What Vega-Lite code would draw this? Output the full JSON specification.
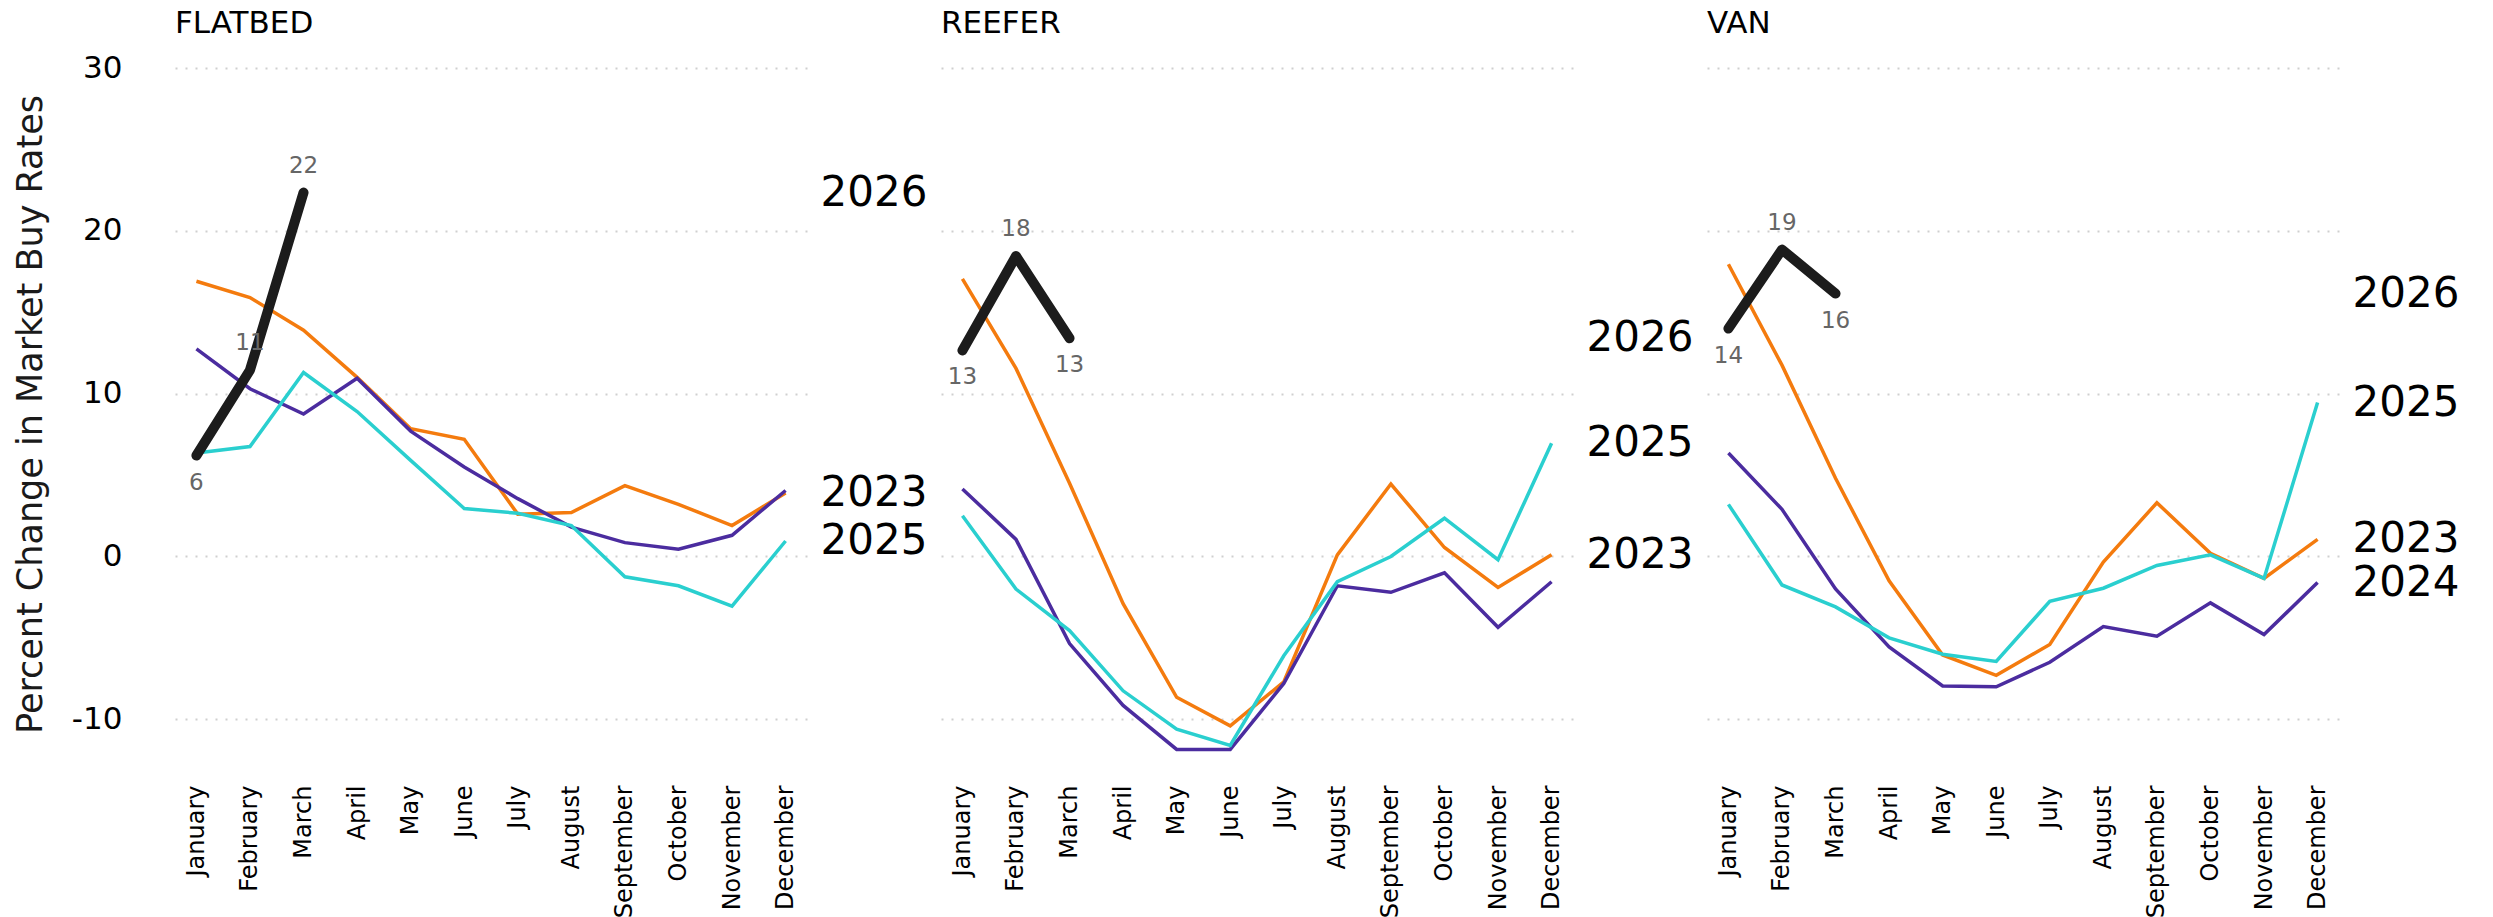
{
  "$schema": "https://vega.github.io/schema/vega-lite/v6.json",
  "background": "white",
  "padding": {"left": 13, "top": 8, "right": 5, "bottom": 0},
  "bounds": "flush",
  "spacing": 134,
  "config": {
    "view": {"stroke": null},
    "font": "DejaVu Sans",
    "header": {"title": null, "labelFontSize": 31, "labelAnchor": "start", "labelAlign": "left", "labelColor": "black", "labelFont": "DejaVu Sans", "labelBaseline": "alphabetic", "labelPadding": 4}
  },
  "data": {"values": [
    {"panel":"FLATBED","year":"2023","m":1,"month":"January","value":16.9},
    {"panel":"FLATBED","year":"2023","m":2,"month":"February","value":15.9},
    {"panel":"FLATBED","year":"2023","m":3,"month":"March","value":13.9},
    {"panel":"FLATBED","year":"2023","m":4,"month":"April","value":11.0},
    {"panel":"FLATBED","year":"2023","m":5,"month":"May","value":7.85},
    {"panel":"FLATBED","year":"2023","m":6,"month":"June","value":7.2},
    {"panel":"FLATBED","year":"2023","m":7,"month":"July","value":2.6},
    {"panel":"FLATBED","year":"2023","m":8,"month":"August","value":2.7},
    {"panel":"FLATBED","year":"2023","m":9,"month":"September","value":4.35},
    {"panel":"FLATBED","year":"2023","m":10,"month":"October","value":3.2},
    {"panel":"FLATBED","year":"2023","m":11,"month":"November","value":1.9},
    {"panel":"FLATBED","year":"2023","m":12,"month":"December","value":3.9},
    {"panel":"FLATBED","year":"2024","m":1,"month":"January","value":12.75},
    {"panel":"FLATBED","year":"2024","m":2,"month":"February","value":10.3},
    {"panel":"FLATBED","year":"2024","m":3,"month":"March","value":8.75},
    {"panel":"FLATBED","year":"2024","m":4,"month":"April","value":10.95},
    {"panel":"FLATBED","year":"2024","m":5,"month":"May","value":7.7},
    {"panel":"FLATBED","year":"2024","m":6,"month":"June","value":5.5},
    {"panel":"FLATBED","year":"2024","m":7,"month":"July","value":3.55},
    {"panel":"FLATBED","year":"2024","m":8,"month":"August","value":1.8},
    {"panel":"FLATBED","year":"2024","m":9,"month":"September","value":0.85},
    {"panel":"FLATBED","year":"2024","m":10,"month":"October","value":0.45},
    {"panel":"FLATBED","year":"2024","m":11,"month":"November","value":1.3},
    {"panel":"FLATBED","year":"2024","m":12,"month":"December","value":4.05},
    {"panel":"FLATBED","year":"2025","m":1,"month":"January","value":6.35},
    {"panel":"FLATBED","year":"2025","m":2,"month":"February","value":6.75},
    {"panel":"FLATBED","year":"2025","m":3,"month":"March","value":11.3},
    {"panel":"FLATBED","year":"2025","m":4,"month":"April","value":8.9},
    {"panel":"FLATBED","year":"2025","m":5,"month":"May","value":5.9},
    {"panel":"FLATBED","year":"2025","m":6,"month":"June","value":2.95},
    {"panel":"FLATBED","year":"2025","m":7,"month":"July","value":2.65},
    {"panel":"FLATBED","year":"2025","m":8,"month":"August","value":1.9},
    {"panel":"FLATBED","year":"2025","m":9,"month":"September","value":-1.25},
    {"panel":"FLATBED","year":"2025","m":10,"month":"October","value":-1.8},
    {"panel":"FLATBED","year":"2025","m":11,"month":"November","value":-3.05},
    {"panel":"FLATBED","year":"2025","m":12,"month":"December","value":0.95},
    {"panel":"FLATBED","year":"2026","m":1,"month":"January","value":6.2},
    {"panel":"FLATBED","year":"2026","m":2,"month":"February","value":11.45},
    {"panel":"FLATBED","year":"2026","m":3,"month":"March","value":22.35},
    {"panel":"REEFER","year":"2023","m":1,"month":"January","value":17.05},
    {"panel":"REEFER","year":"2023","m":2,"month":"February","value":11.55},
    {"panel":"REEFER","year":"2023","m":3,"month":"March","value":4.5},
    {"panel":"REEFER","year":"2023","m":4,"month":"April","value":-2.9},
    {"panel":"REEFER","year":"2023","m":5,"month":"May","value":-8.65},
    {"panel":"REEFER","year":"2023","m":6,"month":"June","value":-10.4},
    {"panel":"REEFER","year":"2023","m":7,"month":"July","value":-7.7},
    {"panel":"REEFER","year":"2023","m":8,"month":"August","value":0.1},
    {"panel":"REEFER","year":"2023","m":9,"month":"September","value":4.45},
    {"panel":"REEFER","year":"2023","m":10,"month":"October","value":0.55},
    {"panel":"REEFER","year":"2023","m":11,"month":"November","value":-1.9},
    {"panel":"REEFER","year":"2023","m":12,"month":"December","value":0.1},
    {"panel":"REEFER","year":"2024","m":1,"month":"January","value":4.15},
    {"panel":"REEFER","year":"2024","m":2,"month":"February","value":1.05},
    {"panel":"REEFER","year":"2024","m":3,"month":"March","value":-5.35},
    {"panel":"REEFER","year":"2024","m":4,"month":"April","value":-9.15},
    {"panel":"REEFER","year":"2024","m":5,"month":"May","value":-11.85},
    {"panel":"REEFER","year":"2024","m":6,"month":"June","value":-11.85},
    {"panel":"REEFER","year":"2024","m":7,"month":"July","value":-7.8},
    {"panel":"REEFER","year":"2024","m":8,"month":"August","value":-1.8},
    {"panel":"REEFER","year":"2024","m":9,"month":"September","value":-2.2},
    {"panel":"REEFER","year":"2024","m":10,"month":"October","value":-1.0},
    {"panel":"REEFER","year":"2024","m":11,"month":"November","value":-4.35},
    {"panel":"REEFER","year":"2024","m":12,"month":"December","value":-1.55},
    {"panel":"REEFER","year":"2025","m":1,"month":"January","value":2.5},
    {"panel":"REEFER","year":"2025","m":2,"month":"February","value":-2.0},
    {"panel":"REEFER","year":"2025","m":3,"month":"March","value":-4.55},
    {"panel":"REEFER","year":"2025","m":4,"month":"April","value":-8.25},
    {"panel":"REEFER","year":"2025","m":5,"month":"May","value":-10.6},
    {"panel":"REEFER","year":"2025","m":6,"month":"June","value":-11.6},
    {"panel":"REEFER","year":"2025","m":7,"month":"July","value":-6.1},
    {"panel":"REEFER","year":"2025","m":8,"month":"August","value":-1.55},
    {"panel":"REEFER","year":"2025","m":9,"month":"September","value":0.0},
    {"panel":"REEFER","year":"2025","m":10,"month":"October","value":2.35},
    {"panel":"REEFER","year":"2025","m":11,"month":"November","value":-0.2},
    {"panel":"REEFER","year":"2025","m":12,"month":"December","value":6.95},
    {"panel":"REEFER","year":"2026","m":1,"month":"January","value":12.65},
    {"panel":"REEFER","year":"2026","m":2,"month":"February","value":18.45},
    {"panel":"REEFER","year":"2026","m":3,"month":"March","value":13.4},
    {"panel":"VAN","year":"2023","m":1,"month":"January","value":17.95},
    {"panel":"VAN","year":"2023","m":2,"month":"February","value":11.75},
    {"panel":"VAN","year":"2023","m":3,"month":"March","value":4.8},
    {"panel":"VAN","year":"2023","m":4,"month":"April","value":-1.5},
    {"panel":"VAN","year":"2023","m":5,"month":"May","value":-6.05},
    {"panel":"VAN","year":"2023","m":6,"month":"June","value":-7.3},
    {"panel":"VAN","year":"2023","m":7,"month":"July","value":-5.4},
    {"panel":"VAN","year":"2023","m":8,"month":"August","value":-0.35},
    {"panel":"VAN","year":"2023","m":9,"month":"September","value":3.3},
    {"panel":"VAN","year":"2023","m":10,"month":"October","value":0.2},
    {"panel":"VAN","year":"2023","m":11,"month":"November","value":-1.35},
    {"panel":"VAN","year":"2023","m":12,"month":"December","value":1.05},
    {"panel":"VAN","year":"2024","m":1,"month":"January","value":6.35},
    {"panel":"VAN","year":"2024","m":2,"month":"February","value":2.9},
    {"panel":"VAN","year":"2024","m":3,"month":"March","value":-2.0},
    {"panel":"VAN","year":"2024","m":4,"month":"April","value":-5.55},
    {"panel":"VAN","year":"2024","m":5,"month":"May","value":-7.95},
    {"panel":"VAN","year":"2024","m":6,"month":"June","value":-8.0},
    {"panel":"VAN","year":"2024","m":7,"month":"July","value":-6.5},
    {"panel":"VAN","year":"2024","m":8,"month":"August","value":-4.3},
    {"panel":"VAN","year":"2024","m":9,"month":"September","value":-4.9},
    {"panel":"VAN","year":"2024","m":10,"month":"October","value":-2.85},
    {"panel":"VAN","year":"2024","m":11,"month":"November","value":-4.8},
    {"panel":"VAN","year":"2024","m":12,"month":"December","value":-1.6},
    {"panel":"VAN","year":"2025","m":1,"month":"January","value":3.2},
    {"panel":"VAN","year":"2025","m":2,"month":"February","value":-1.75},
    {"panel":"VAN","year":"2025","m":3,"month":"March","value":-3.1},
    {"panel":"VAN","year":"2025","m":4,"month":"April","value":-5.0},
    {"panel":"VAN","year":"2025","m":5,"month":"May","value":-6.0},
    {"panel":"VAN","year":"2025","m":6,"month":"June","value":-6.45},
    {"panel":"VAN","year":"2025","m":7,"month":"July","value":-2.75},
    {"panel":"VAN","year":"2025","m":8,"month":"August","value":-1.95},
    {"panel":"VAN","year":"2025","m":9,"month":"September","value":-0.55},
    {"panel":"VAN","year":"2025","m":10,"month":"October","value":0.1},
    {"panel":"VAN","year":"2025","m":11,"month":"November","value":-1.35},
    {"panel":"VAN","year":"2025","m":12,"month":"December","value":9.45},
    {"panel":"VAN","year":"2026","m":1,"month":"January","value":14.0},
    {"panel":"VAN","year":"2026","m":2,"month":"February","value":18.85},
    {"panel":"VAN","year":"2026","m":3,"month":"March","value":16.15}
  ]},
  "facet": {"column": {"field": "panel", "type": "nominal", "sort": ["FLATBED", "REEFER", "VAN"], "title": null}},
  "spec": {
    "width": 632,
    "height": 692,
    "encoding": {
      "x": {"field": "month", "type": "ordinal", "sort": ["January","February","March","April","May","June","July","August","September","October","November","December"],
        "scale": {"type": "point", "padding": 0.4},
        "axis": {"title": null, "labelAngle": -90, "labelFontSize": 24, "labelColor": "black", "labelPadding": 25, "domain": false, "ticks": false, "grid": false, "labelFont": "DejaVu Sans"}},
      "y": {"field": "value", "type": "quantitative",
        "scale": {"domain": [-12.5, 30], "nice": false, "zero": false},
        "axis": {"title": "Percent Change in Market Buy Rates", "values": [-10, 0, 10, 20, 30], "labelExpr": "toString(datum.value)", "domain": false, "ticks": false,
          "labelFontSize": 31, "labelColor": "black", "labelPadding": 53, "titleFontSize": 35, "titleFontWeight": "normal", "titleColor": "#1a1a1a", "titlePadding": 23,
          "gridColor": "#cfcfcf", "gridWidth": 2, "gridDash": [2, 8], "labelFont": "DejaVu Sans", "titleFont": "DejaVu Sans"}},
      "color": {"field": "year", "type": "nominal", "legend": null,
        "scale": {"domain": ["2023", "2024", "2025", "2026"], "range": ["#F47B0E", "#4B2C9F", "#2ACFCF", "#1c1c1c"]}}
    },
    "layer": [
      {"transform": [{"filter": "datum.year != '2026'"}],
       "mark": {"type": "line", "strokeWidth": 3.5, "strokeJoin": "miter"},
       "encoding": {"detail": {"field": "year"}}},
      {"transform": [{"filter": "datum.year == '2026'"}],
       "mark": {"type": "line", "strokeWidth": 10, "strokeCap": "round", "strokeJoin": "round"}},
      {"transform": [
         {"filter": "datum.year == '2026'"},
         {"window": [{"op": "lag", "field": "value", "as": "prev"}], "groupby": ["panel", "year"], "sort": [{"field": "m"}]},
         {"filter": "datum.prev != null && datum.value > datum.prev"}],
       "mark": {"type": "text", "fontSize": 23, "color": "#666666", "dy": -27, "baseline": "middle"},
       "encoding": {"text": {"field": "value", "type": "quantitative", "format": ".0f"}, "color": {"value": "#666666"}}},
      {"transform": [
         {"filter": "datum.year == '2026'"},
         {"window": [{"op": "lag", "field": "value", "as": "prev"}], "groupby": ["panel", "year"], "sort": [{"field": "m"}]},
         {"filter": "!(datum.prev != null && datum.value > datum.prev)"}],
       "mark": {"type": "text", "fontSize": 23, "color": "#666666", "dy": 27, "baseline": "middle"},
       "encoding": {"text": {"field": "value", "type": "quantitative", "format": ".0f"}, "color": {"value": "#666666"}}},
      {"transform": [
         {"window": [{"op": "rank", "as": "r"}], "groupby": ["panel", "year"], "sort": [{"field": "m", "order": "descending"}]},
         {"filter": "datum.r == 1"},
         {"filter": "!(datum.year == '2024' && datum.panel != 'VAN')"}],
       "mark": {"type": "text", "fontSize": 42, "align": "left", "baseline": "middle", "dx": 35, "color": "black"},
       "encoding": {"x": {"datum": "December", "type": "ordinal"}, "text": {"field": "year"}, "color": {"value": "black"}}}
    ]
  }
}
